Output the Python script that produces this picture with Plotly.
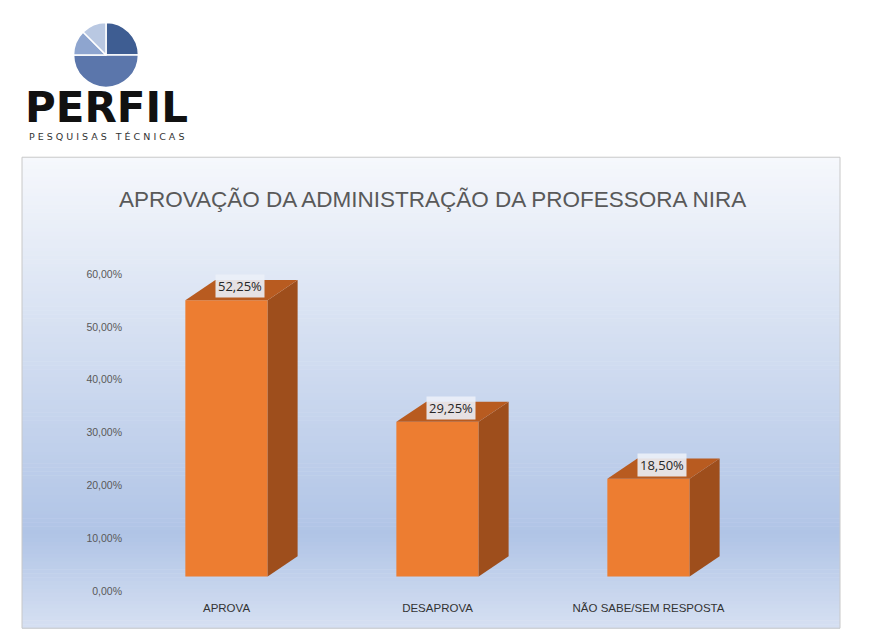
import plotly.graph_objects as go

# dados
categorias = ["APROVA", "DESAPROVA", "NÃO SABE/SEM RESPOSTA"]
valores = [52.25, 29.25, 18.50]
rotulos = ["52,25%", "29,25%", "18,50%"]
ticks = [0, 10, 20, 30, 40, 50, 60]
tick_text = ["0,00%", "10,00%", "20,00%", "30,00%", "40,00%", "50,00%", "60,00%"]
logo_partes = [25, 50, 12.5, 12.5]

# a página tem margem de 8px
W, H = 869 - 16, 643 - 16
px_x = lambda p: (p - 8) / W
px_y = lambda p: 1 - (((p - 4.6) / 0.983) - 8) / H

fig = go.Figure()
fig.add_trace(go.Bar(x=[0, 1, 2], y=valores, width=0.39, marker_color="#ed7d31",
                     marker_line_width=0, hoverinfo="skip"))
fig.add_trace(go.Scatter(x=[0], y=[0], yaxis="y2", mode="markers", opacity=0,
                         hoverinfo="skip"))

# fundo em gradiente
shapes = []
n = 120
top, bot = 156, 628
def mix(c1, c2, t):
    return "rgb(%d,%d,%d)" % tuple(round(a + (b - a) * t) for a, b in zip(c1, c2))
c_top, c_mid, c_bot = (246, 248, 252), (176, 196, 230), (214, 224, 242)
for i in range(n):
    y0 = top + (bot - top) * i / n
    y1 = top + (bot - top) * (i + 1) / n
    t = (i + 0.5) / n
    col = mix(c_top, c_mid, t / 0.8) if t < 0.8 else mix(c_mid, c_bot, (t - 0.8) / 0.2)
    shapes.append(dict(type="rect", xref="paper", yref="paper", layer="below",
                       x0=px_x(22), x1=px_x(840), y0=px_y(y1 + 0.5), y1=px_y(y0),
                       fillcolor=col, line_width=0))
shapes.append(dict(type="rect", xref="paper", yref="paper", layer="below",
                   x0=px_x(22), x1=px_x(840), y0=px_y(628), y1=px_y(156),
                   line=dict(color="#c8c8c8", width=1)))

# faces 3D
dx, dy, hw = 0.142, 3.8, 0.195
for i, v in enumerate(valores):
    xr = i + hw
    shapes.append(dict(type="path", xref="x", yref="y", fillcolor="#9e4e1c", line_width=0,
                       path=f"M {xr},0 L {xr+dx},{dy} L {xr+dx},{v+dy} L {xr},{v} Z"))
    shapes.append(dict(type="path", xref="x", yref="y", fillcolor="#b85b20", line_width=0,
                       path=f"M {i-hw},{v} L {xr},{v} L {xr+dx},{v+dy} L {i-hw+dx},{v+dy} Z"))

annotations = []
for i, (v, r) in enumerate(zip(valores, rotulos)):
    annotations.append(dict(x=i + 0.066, y=v + 2.6, xref="x", yref="y", text=r, showarrow=False,
                            font=dict(size=13, color="#262626"), bgcolor="rgba(235,240,248,0.9)",
                            borderpad=2))
annotations.append(dict(x=px_x(432), y=px_y(184), xref="paper", yref="paper", xanchor="center",
                        text="APROVAÇÃO DA ADMINISTRAÇÃO DA PROFESSORA NIRA", showarrow=False,
                        font=dict(size=22.5, color="#595959", family="Liberation Sans")))
annotations.append(dict(x=px_x(106), y=px_y(106), xref="paper", yref="paper", text="<b>PERFIL</b>",
                        showarrow=False, font=dict(size=42, color="#111111", family="DejaVu Sans"),
                        xanchor="center", yanchor="middle"))
annotations.append(dict(x=px_x(106), y=px_y(128), xref="paper", yref="paper", xanchor="center",
                        text="P E S Q U I S A S   T É C N I C A S", showarrow=False,
                        font=dict(size=9.5, color="#333333", family="DejaVu Sans")))

fig.add_trace(go.Pie(values=logo_partes, sort=False, direction="clockwise", rotation=0,
                     marker=dict(colors=["#3e5d92", "#5b76ab", "#8ea5cf", "#b9c8e2"],
                                 line=dict(color="white", width=1.5)),
                     textinfo="none", hoverinfo="skip", showlegend=False,
                     domain=dict(x=[px_x(72), px_x(140)], y=[px_y(86), px_y(21)])))

fig.update_layout(
    width=W, height=H, margin=dict(l=0, r=0, t=0, b=0),
    paper_bgcolor="white", plot_bgcolor="rgba(0,0,0,0)", showlegend=False,
    shapes=shapes, annotations=annotations,
    xaxis=dict(domain=[px_x(121), px_x(754)], range=[-0.5, 2.5], tickvals=[0, 1, 2],
               ticktext=categorias, showgrid=False, zeroline=False, showline=False,
               tickfont=dict(size=11.5, color="#333333", family="Liberation Sans"), ticklen=0,
               ticklabelstandoff=8),
    yaxis=dict(domain=[px_y(591), px_y(273)], range=[-2.8, 57.2], visible=False),
    yaxis2=dict(range=[0, 60], overlaying="y", side="left", tickvals=ticks, ticktext=tick_text,
                showgrid=False, zeroline=False, tickfont=dict(size=10.5, color="#595959",
                family="Liberation Sans"), anchor="free", position=px_x(122)),
)
fig.write_html("out.html")
